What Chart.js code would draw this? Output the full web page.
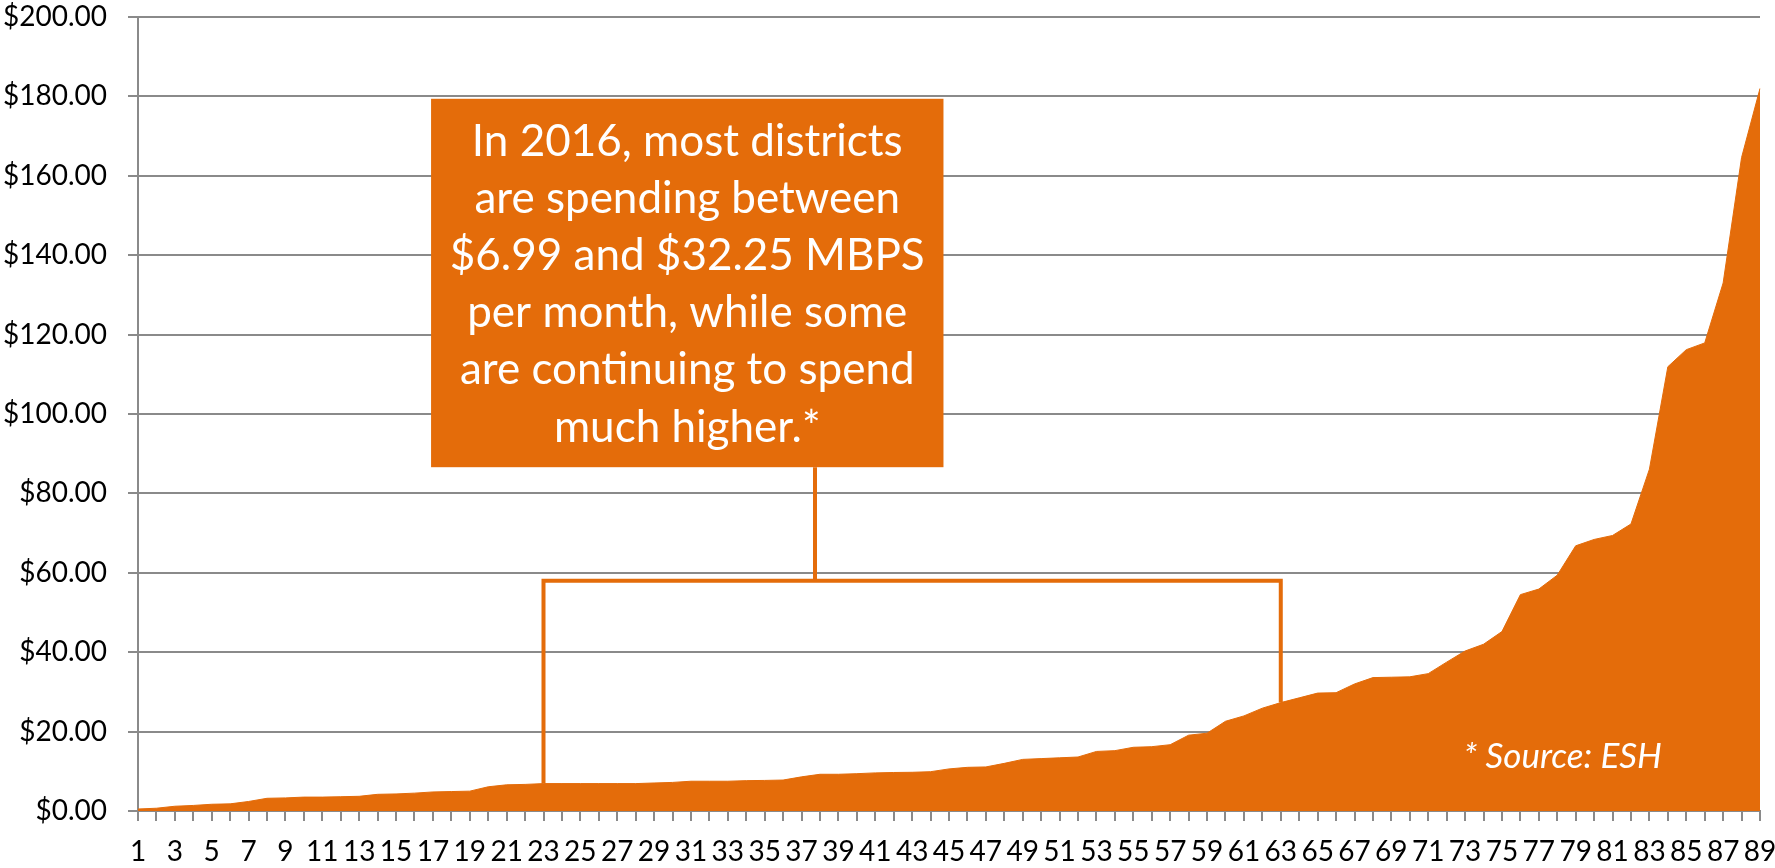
<!DOCTYPE html>
<html>
<head>
<meta charset="utf-8">
<script src="https://cdn.jsdelivr.net/npm/chart.js@4"></script>
<style>
  html, body { margin: 0; padding: 0; background: #fff; }
  canvas { display: block; }
</style>
</head>
<body>
<canvas id="costChart" width="1775" height="868"></canvas>
<script>
// districts ranked by monthly cost per Mbps
const districts = Array.from({ length: 89 }, (_, i) => String(i + 1));
const costPerMbps = [
    0.5, 0.7, 1.2, 1.4, 1.7, 1.8, 2.4, 3.2, 3.3, 3.5,
    3.5, 3.6, 3.7, 4.2, 4.3, 4.5, 4.8, 4.9, 5.0, 6.1,
    6.6, 6.7, 6.9, 6.9, 6.9, 6.9, 6.9, 6.9, 7.06, 7.2,
    7.5, 7.5, 7.5, 7.65, 7.7, 7.8, 8.6, 9.25, 9.25, 9.4,
    9.6, 9.7, 9.75, 9.9, 10.6, 11.0, 11.1, 12.0, 13.0, 13.2,
    13.4, 13.6, 15.0, 15.2, 16.05, 16.2, 16.7, 19.1, 19.6, 22.6,
    23.95, 25.9, 27.3, 28.5, 29.7, 29.8, 32.0, 33.6, 33.7, 33.8,
    34.6, 37.5, 40.3, 42.0, 45.2, 54.5, 55.9, 59.4, 66.8, 68.4,
    69.4, 72.3, 86.1, 111.9, 116.2, 117.9, 133.0, 164.6, 182.0
];
const yTicks = [0, 20, 40, 60, 80, 100, 120, 140, 160, 180, 200];

const calloutLines = [
    'In 2016, most districts',
    'are spending between',
    '$6.99 and $32.25 MBPS',
    'per month, while some',
    'are continuing to spend',
    'much higher.*'
];
const sourceNote = '* Source: ESH';

const ORANGE = '#E46C0A';
const GRID = '#8a8a8a';
const FONT = 'Lato, "Open Sans", sans-serif';

// callout box, bracket and note, placed in data units
const calloutBox = { x0: 15.9, x1: 43.7, yTop: 179.4, yBottom: 86.6 };
const bracket = { from: 22, to: 62, y: 58, stem: 36.73 };
const notePos = { x: 77.3, y: 13.6 };

const annotations = {
    id: 'annotations',
    afterDraw(chart) {
        const { ctx, scales: { x, y } } = chart;
        ctx.save();

        // bracket over the middle range
        const bx0 = x.getPixelForValue(bracket.from);
        const bx1 = x.getPixelForValue(bracket.to);
        const by = y.getPixelForValue(bracket.y);
        const sx = x.getPixelForValue(bracket.stem);
        const boxBottom = y.getPixelForValue(calloutBox.yBottom);
        ctx.strokeStyle = ORANGE;
        ctx.lineWidth = 4;
        ctx.beginPath();
        ctx.moveTo(bx0, y.getPixelForValue(costPerMbps[bracket.from]));
        ctx.lineTo(bx0, by);
        ctx.lineTo(bx1, by);
        ctx.lineTo(bx1, y.getPixelForValue(costPerMbps[bracket.to]));
        ctx.moveTo(sx, by);
        ctx.lineTo(sx, boxBottom);
        ctx.stroke();

        // callout box
        const left = x.getPixelForValue(calloutBox.x0);
        const right = x.getPixelForValue(calloutBox.x1);
        const top = y.getPixelForValue(calloutBox.yTop);
        ctx.fillStyle = ORANGE;
        ctx.fillRect(left, top, right - left, boxBottom - top);

        ctx.fillStyle = '#ffffff';
        ctx.font = '44px ' + FONT;
        ctx.textAlign = 'center';
        ctx.textBaseline = 'middle';
        const lineGap = 57.2;
        const cx = (left + right) / 2;
        const cy = (top + boxBottom) / 2 + 1.5;
        calloutLines.forEach((line, i) => {
            ctx.fillText(line, cx, cy + (i - (calloutLines.length - 1) / 2) * lineGap);
        });

        // source note inside the area
        ctx.font = 'italic 35px ' + FONT;
        ctx.fillText(sourceNote, x.getPixelForValue(notePos.x), y.getPixelForValue(notePos.y));
        ctx.restore();
    }
};

new Chart(document.getElementById('costChart'), {
    type: 'line',
    data: {
        labels: districts,
        datasets: [{
            data: costPerMbps,
            fill: 'origin',
            backgroundColor: ORANGE,
            borderColor: ORANGE,
            borderWidth: 1,
            pointRadius: 0,
            tension: 0
        }]
    },
    options: {
        responsive: false,
        animation: false,
        devicePixelRatio: 1,
        layout: { padding: 0 },
        plugins: {
            legend: { display: false },
            tooltip: { enabled: false }
        },
        scales: {
            x: {
                offset: false,
                grid: {
                    drawOnChartArea: false,
                    drawTicks: true,
                    tickLength: 10,
                    color: GRID,
                    lineWidth: 2
                },
                border: { color: GRID, width: 2 },
                ticks: {
                    autoSkip: false,
                    maxRotation: 0,
                    padding: 14,
                    color: '#000',
                    font: { family: FONT, size: 28 },
                    callback: (v, i) => (i % 2 === 0 ? districts[i] : '')
                },
                afterFit(scale) {
                    scale.height = 57;
                    scale.paddingLeft = 0;
                    scale.paddingRight = 15;
                }
            },
            y: {
                min: 0,
                max: 200,
                afterBuildTicks(scale) {
                    scale.ticks = yTicks.map(v => ({ value: v }));
                },
                grid: {
                    color: GRID,
                    lineWidth: 2,
                    tickLength: 10
                },
                border: { color: GRID, width: 2 },
                ticks: {
                    padding: 21,
                    color: '#000',
                    font: { family: FONT, size: 28 },
                    callback: v => '$' + Number(v).toFixed(2)
                },
                afterFit(scale) {
                    scale.width = 138;
                    scale.paddingTop = 17;
                    scale.paddingBottom = 0;
                }
            }
        }
    },
    plugins: [annotations]
});
</script>
</body>
</html>
